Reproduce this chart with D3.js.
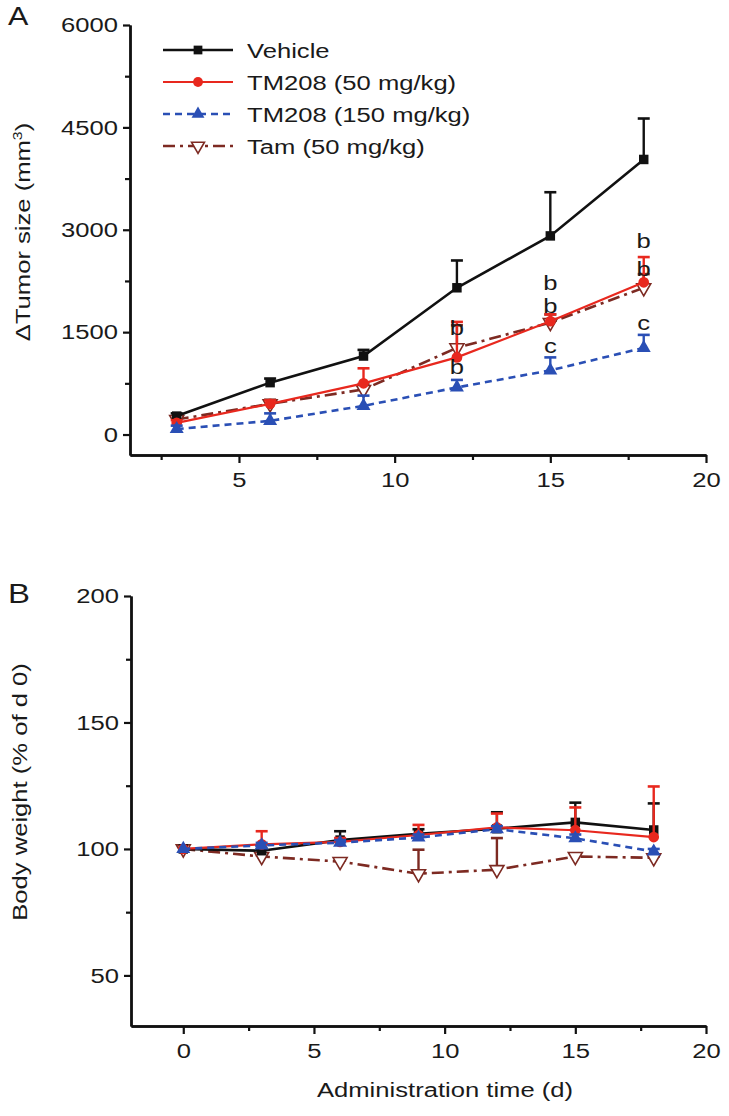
<!DOCTYPE html>
<html><head><meta charset="utf-8">
<script src="https://cdn.jsdelivr.net/npm/d3@7"></script>
<style>
html,body{margin:0;padding:0;background:#fff;}
svg text{font-family:"Liberation Sans",Arial,Helvetica,sans-serif;fill:#1a1a1a;}
</style></head>
<body>
<svg id="chart" width="729" height="1116"></svg>
<script>
// ---------- DATA ----------
const seriesNames = ["Vehicle", "TM208 (50 mg/kg)", "TM208 (150 mg/kg)", "Tam (50 mg/kg)"];
// Panel A: tumor growth
const daysA = [3, 6, 9, 12, 15, 18];
const vehicleA = [270, 760, 1150, 2150, 2910, 4030];
const vehicleAErr = [40, 60, 90, 400, 640, 600];
const tm50A = [170, 450, 750, 1130, 1660, 2230];
const tm50AErr = [40, 50, 220, 520, 100, 370];
const tm150A = [80, 200, 420, 690, 940, 1270];
const tm150AErr = [50, 110, 150, 110, 190, 190];
const tamA = [220, 450, 660, 1270, 1640, 2150];
const tamAErr = [40, 60, 80, 330, 120, 200];
// significance letters (day, value position, letter)
const lettersDay = [12, 12, 15, 15, 15, 18, 18, 18];
const lettersPos = [1555, 983, 2215, 1878, 1291, 2831, 2420, 1628];
const lettersText = ["b", "b", "b", "b", "c", "b", "b", "c"];
const yTicksA = [0, 1500, 3000, 4500, 6000];
const yMinorA = [750, 2250, 3750, 5250];
const xTicksA = [5, 10, 15, 20];
const xMinorA = [2.5, 7.5, 12.5, 17.5];
// Panel B: body weight
const daysB = [0, 3, 6, 9, 12, 15, 18];
const vehicleB = [100, 99.3, 103.5, 106, 108, 110.5, 107.5];
const vehicleBErr = [0, 0.8, 3.5, 1.8, 6.5, 7.8, 10.5];
const tm50B = [100, 101.8, 102.8, 105.5, 108.5, 107.4, 104.7];
const tm50BErr = [0, 5.2, 1.5, 4, 5.5, 9, 20];
const tm150B = [100, 101.4, 102.5, 104.5, 107.8, 104.2, 99];
const tm150BErr = [0, 1, 1, 1.2, 1.2, 1.5, 1];
const tamB = [100, 97, 95, 90.2, 91.8, 97, 96.5];
const tamBErr = [0, 0.5, 0.5, 9.5, 12.5, 1, 0.5];
const yTicksB = [50, 100, 150, 200];
const yMinorB = [75, 125, 175];
const xTicksB = [0, 5, 10, 15, 20];
const xMinorB = [2.5, 7.5, 12.5, 17.5];

// ---------- STYLE ----------
const S = 1.22; // horizontal text stretch
const styles = [
  {color: "#111111", dash: null, width: 2.6, sym: "square", fill: "#111111"},
  {color: "#e8281e", dash: null, width: 2.2, sym: "circle", fill: "#e8281e"},
  {color: "#2a4fb5", dash: "7,5", width: 2.6, sym: "triangle", fill: "#2a4fb5"},
  {color: "#7d2a22", dash: "12,5,3,5", width: 2.6, sym: "down", fill: "#ffffff"}
];

const svg = d3.select("#chart");

function sText(g, x, y, str, anchor, size, rot) {
  return g.append("text")
    .attr("transform", `translate(${x},${y})` + (rot ? ` rotate(${rot})` : "") + ` scale(${S},1)`)
    .attr("text-anchor", anchor || "start")
    .attr("font-size", size || 21)
    .text(str);
}

function symbolPath(kind, big) {
  const k = big ? 1 : 0.85;
  if (kind === "square") return d3.symbol(d3.symbolSquare, 90 * k)();
  if (kind === "circle") return d3.symbol(d3.symbolCircle, 90 * k)();
  return d3.symbol(d3.symbolTriangle, 85 * k)();
}

function drawMarker(g, st, x, y, big) {
  return g.append("path").attr("d", symbolPath(st.sym, big))
    .attr("transform", `translate(${x},${y})` + (st.sym === "down" ? " rotate(180)" : ""))
    .attr("fill", st.fill)
    .attr("stroke", st.sym === "down" ? st.color : "none")
    .attr("stroke-width", 1.6);
}

function styleAxis(g) {
  g.select(".domain").attr("stroke", "#111").attr("stroke-width", 2.4);
  g.selectAll(".tick line").attr("stroke", "#111").attr("stroke-width", 2.2);
  g.selectAll(".tick text").attr("font-size", 21).attr("fill", "#1a1a1a")
    .attr("font-family", '"Liberation Sans",Arial,sans-serif')
    .each(function() {
      const t = d3.select(this);
      const x = +t.attr("x") || 0;
      t.attr("x", x / S).attr("transform", `scale(${S},1)`);
    });
}

function panel(cfg) {
  const g = svg.append("g");
  const x = d3.scaleLinear().domain(cfg.xDomain).range(cfg.xRange);
  const y = d3.scaleLinear().domain(cfg.yDomain).range(cfg.yRange);

  const yMinorG = g.append("g").attr("transform", `translate(${cfg.xRange[0]},0)`)
    .call(d3.axisLeft(y).tickValues(cfg.yMinor).tickSize(5).tickSizeOuter(0).tickFormat(""));
  const xMinorG = g.append("g").attr("transform", `translate(0,${cfg.yRange[0]})`)
    .call(d3.axisBottom(x).tickValues(cfg.xMinor).tickSize(5).tickSizeOuter(0).tickFormat(""));
  const yAx = g.append("g").attr("transform", `translate(${cfg.xRange[0]},0)`)
    .call(d3.axisLeft(y).tickValues(cfg.yTicks).tickSize(7).tickPadding(5).tickSizeOuter(0).tickFormat(d3.format("d")));
  const xAx = g.append("g").attr("transform", `translate(0,${cfg.yRange[0]})`)
    .call(d3.axisBottom(x).tickValues(cfg.xTicks).tickSize(8).tickPadding(9).tickSizeOuter(0).tickFormat(d3.format("d")));
  [yMinorG, xMinorG, yAx, xAx].forEach(a => styleAxis(a));

  const order = [3, 0, 1, 2];
  order.forEach(i => {
    const st = styles[i];
    const vals = cfg.series[i], errs = cfg.errs[i];
    const pts = cfg.days.map((d, j) => [d, vals[j], errs[j]]);
    pts.forEach(p => {
      if (p[2] <= 0) return;
      const xx = x(p[0]), y0 = y(p[1]), y1 = y(p[1] + p[2]);
      g.append("line").attr("x1", xx).attr("x2", xx).attr("y1", y0).attr("y2", y1)
        .attr("stroke", st.color).attr("stroke-width", 2.4);
      g.append("line").attr("x1", xx - 6).attr("x2", xx + 6).attr("y1", y1).attr("y2", y1)
        .attr("stroke", st.color).attr("stroke-width", 2.6);
    });
    g.append("path").datum(pts)
      .attr("d", d3.line().x(p => x(p[0])).y(p => y(p[1])))
      .attr("fill", "none").attr("stroke", st.color).attr("stroke-width", st.width)
      .attr("stroke-dasharray", st.dash);
    pts.forEach(p => drawMarker(g, st, x(p[0]), y(p[1]), true));
  });
  return {g, x, y};
}

// ---------- PANEL A ----------
const A = panel({
  xDomain: [1.5, 20], xRange: [130, 706],
  yDomain: [-300, 6000], yRange: [455, 25],
  yTicks: yTicksA, yMinor: yMinorA, xTicks: xTicksA, xMinor: xMinorA,
  days: daysA,
  series: [vehicleA, tm50A, tm150A, tamA],
  errs: [vehicleAErr, tm50AErr, tm150AErr, tamAErr]
});
lettersText.forEach((t, i) => {
  sText(A.g, A.x(lettersDay[i]), A.y(lettersPos[i]) + 7, t, "middle", 21).attr("fill", "#2a2a2a");
});

const tA = svg.append("text")
  .attr("transform", `translate(30,232) rotate(-90) scale(${S},1)`)
  .attr("text-anchor", "middle").attr("font-size", 21);
tA.append("tspan").text("\u0394Tumor size (mm");
tA.append("tspan").attr("font-size", 13).attr("dy", -8).text("3");
tA.append("tspan").attr("dy", 8).text(")");

sText(svg, 8, 25, "A", "start", 25);

const legY = [50, 82, 114, 146];
seriesNames.forEach((name, i) => {
  const st = styles[i];
  const lg = svg.append("g");
  lg.append("line").attr("x1", 163).attr("x2", 233).attr("y1", legY[i]).attr("y2", legY[i])
    .attr("stroke", st.color).attr("stroke-width", st.width).attr("stroke-dasharray", st.dash);
  drawMarker(lg, st, 198, legY[i], false);
  sText(lg, 247, legY[i] + 7.5, name, "start", 21);
});

// ---------- PANEL B ----------
const B = panel({
  xDomain: [-2, 20], xRange: [131, 706],
  yDomain: [30, 200], yRange: [1026, 596],
  yTicks: yTicksB, yMinor: yMinorB, xTicks: xTicksB, xMinor: xMinorB,
  days: daysB,
  series: [vehicleB, tm50B, tm150B, tamB],
  errs: [vehicleBErr, tm50BErr, tm150BErr, tamBErr]
});
sText(svg, 8, 603, "B", "start", 27);
sText(svg, 27, 792, "Body weight (% of d 0)", "middle", 21, -90);
sText(svg, 445, 1097, "Administration time (d)", "middle", 21);
</script>
</body></html>
